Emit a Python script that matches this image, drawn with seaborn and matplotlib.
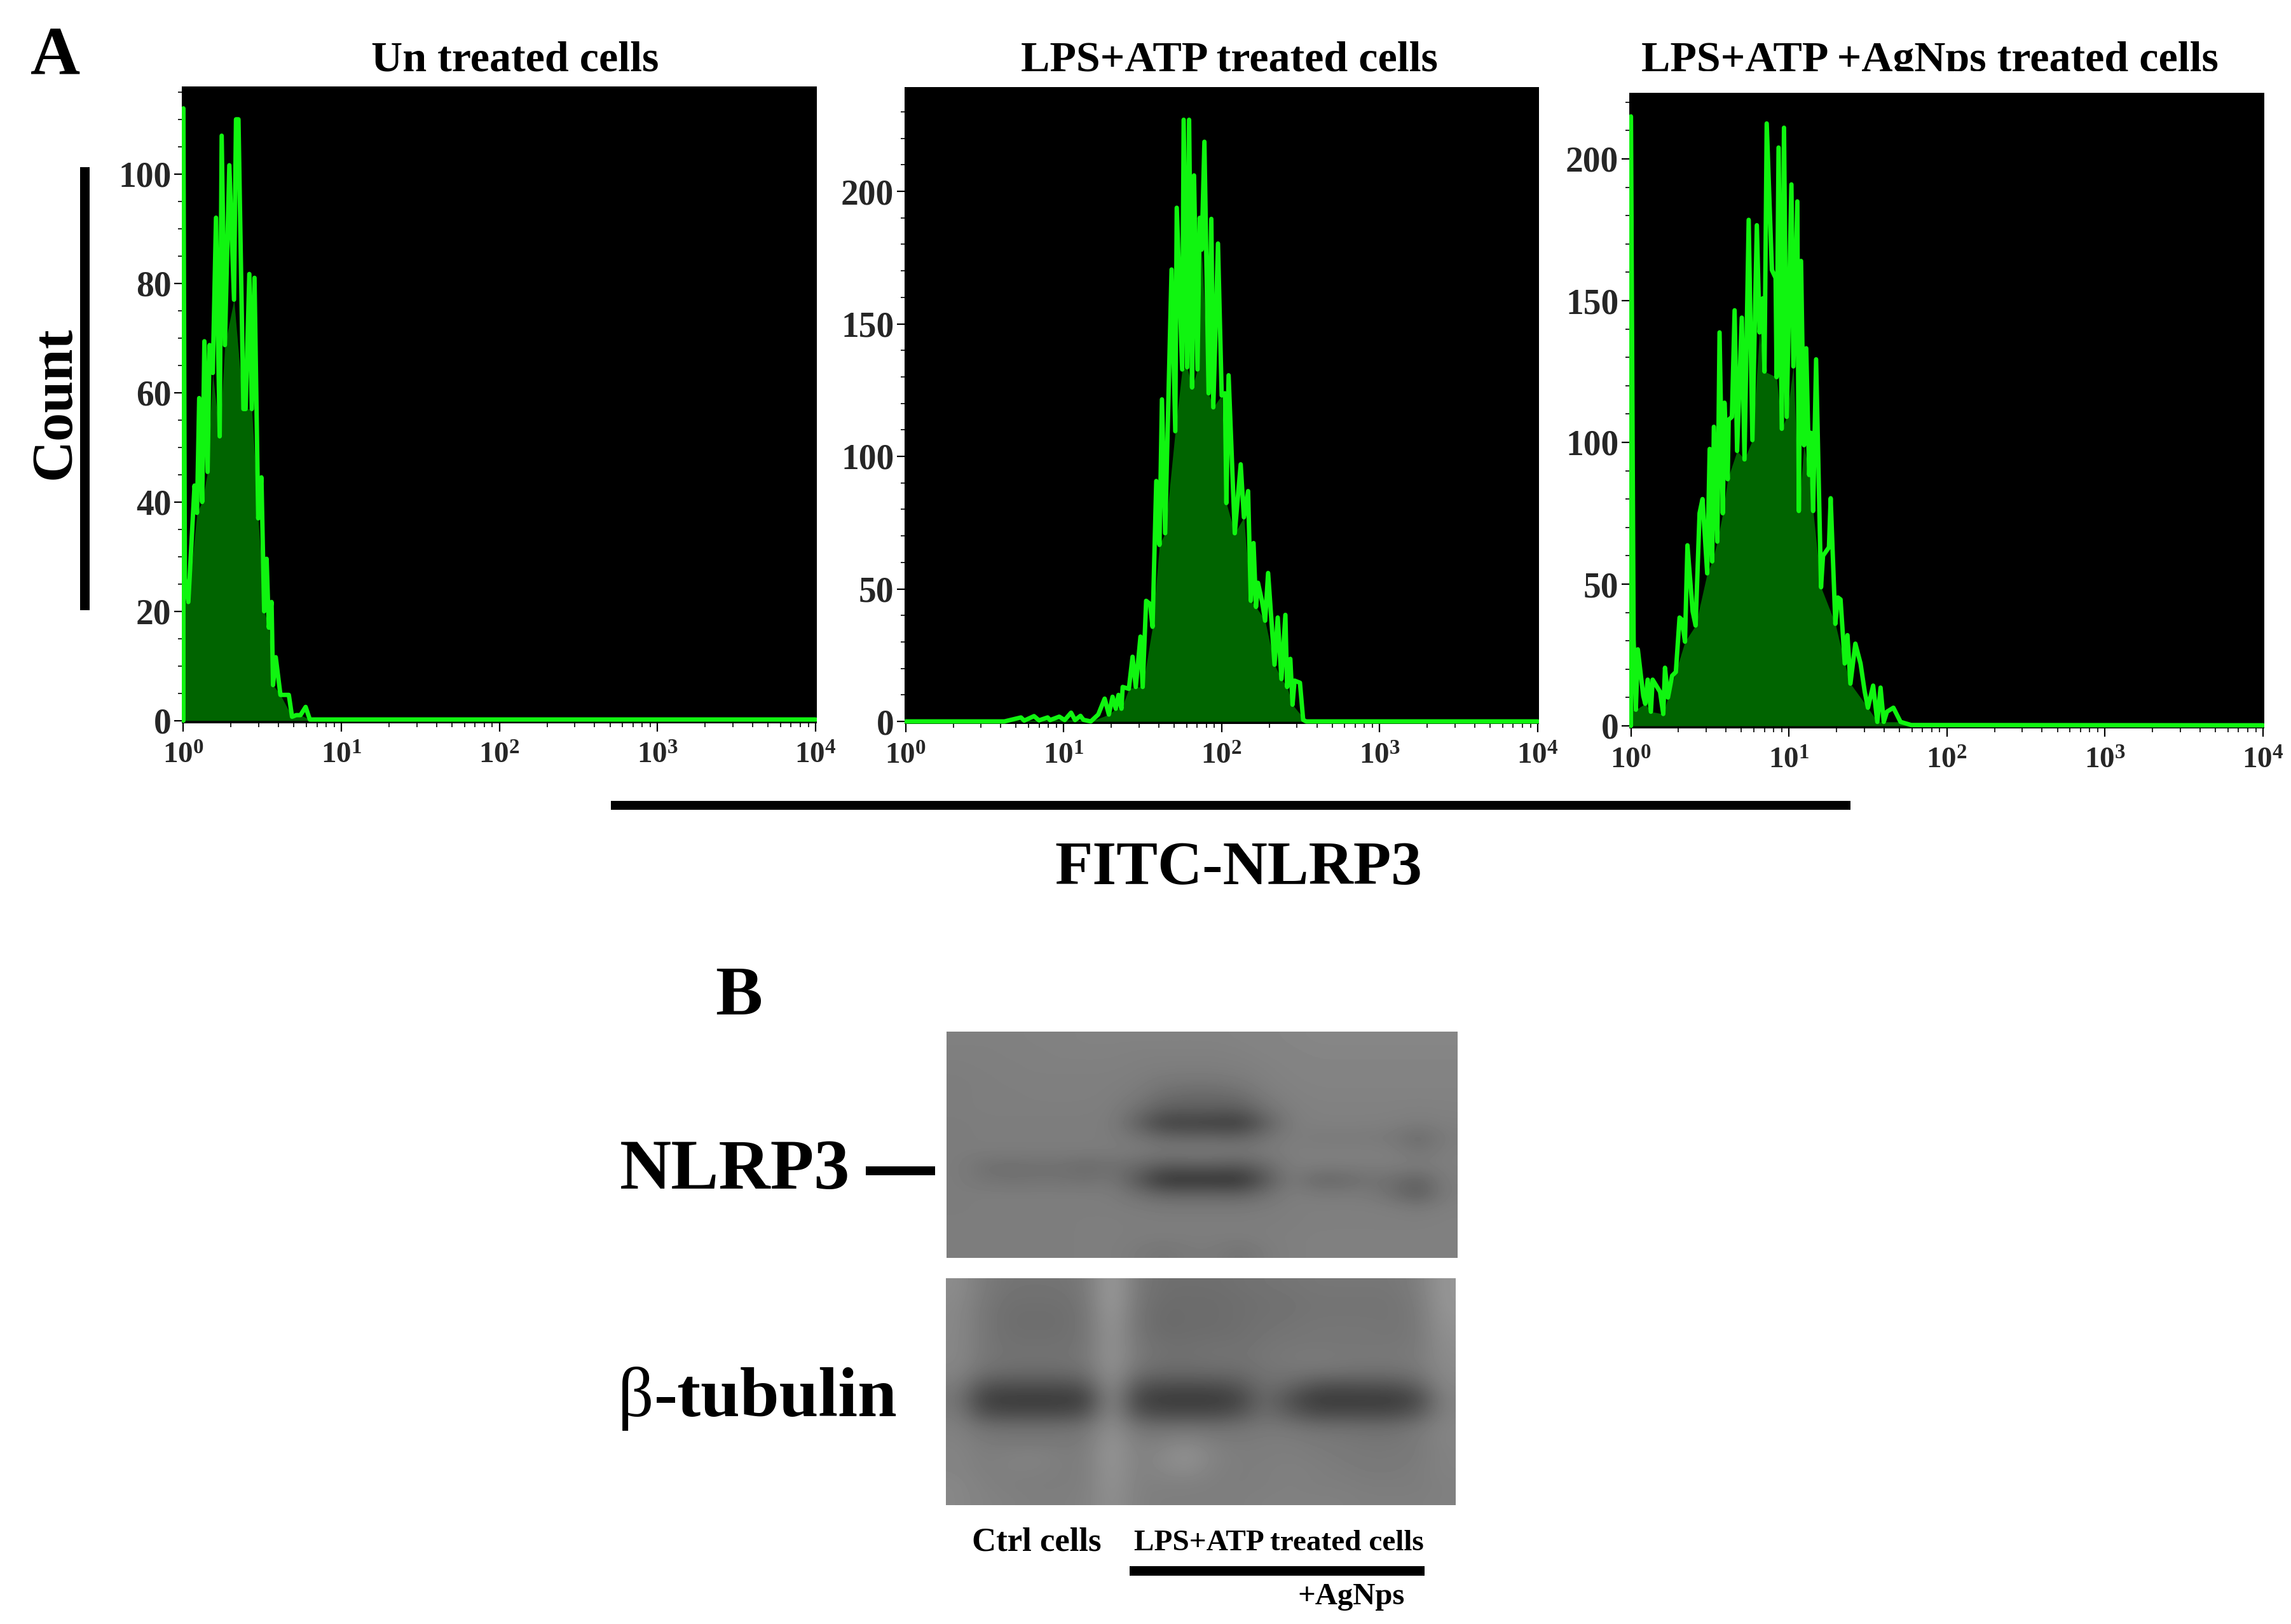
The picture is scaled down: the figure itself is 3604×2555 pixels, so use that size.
import numpy as np
import seaborn as sns
import matplotlib
matplotlib.use("Agg")
import matplotlib.pyplot as plt
from matplotlib.patches import Rectangle
from matplotlib.ticker import FixedLocator, MultipleLocator, NullFormatter, LogLocator

sns.set_style("white")
plt.rcParams['font.family'] = ['Liberation Serif', 'DejaVu Serif']
plt.rcParams['font.weight'] = 'bold'
plt.rcParams['mathtext.fontset'] = 'custom'
plt.rcParams['mathtext.rm'] = 'Liberation Serif:bold'
plt.rcParams['mathtext.bf'] = 'Liberation Serif:bold'
plt.rcParams['mathtext.default'] = 'bf'

W, H = 3605, 2555

# ---------- data (channel on 0-256 log scale, count) ----------
untreated_ch = [0, 0, 0.6, 2, 4.5, 5.5, 6.4, 7.6, 8.5, 9.8, 10.6, 11.9, 13.2, 14.7, 15.5, 16.8,
                18.6, 20.5, 21.3, 22.3, 24.3, 25.2, 26.7, 27.7, 28.8, 30.3, 31.6, 32.7, 33.7,
                34.6, 35.7, 36.3, 37.4, 39.3, 42.7, 44, 45.7, 47.4, 49.5, 51.2, 256]
untreated_ct = [0, 112, 26, 21.7, 43, 38, 59, 40, 69.4, 45.5, 68.7, 63.6, 92, 52, 107, 68.7,
                101.6, 77, 110, 110, 57, 57, 81.7, 57, 81, 37, 44.5, 20, 29.6,
                17, 21.7, 6.5, 11.6, 4.7, 4.7, 0.7, 1, 1, 2.5, 0.2, 0.2]

lps_ch = [0, 40, 46.7, 48, 52, 54, 57.5, 58.5, 62.2, 64.4, 67, 68.6, 70.8, 72, 75, 78, 80.6, 82.3,
          83.8, 85.1, 86.2, 87.4, 87.9, 90.4, 91.9, 93.2, 95.1, 96, 97.4, 99, 100, 101.5,
          102.8, 103.8, 105.1, 107.7, 109.2, 109.8, 112, 112.6, 114, 114.8, 116, 116.8, 118.2,
          119.1, 119.9, 121, 122.7, 123.8, 124.6, 126.5, 128, 129.3, 129.9, 130.8, 133.3,
          135.7, 137, 138.7, 139.8, 140.9, 141.9, 142.7, 144.3, 145.6, 146.8, 149.4, 150.7,
          152.2, 153.8, 154.5, 155.8, 156.7, 157.5, 159.7, 161, 162.2, 256]
lps_ct = [0, 0, 1.5, 0.3, 2, 0.4, 1.5, 0.5, 1.8, 0.5, 3.3, 0.5, 2.1, 0.6, 0, 2.6, 8.6, 2.6,
          9.3, 4.8, 10, 4.8, 13, 12.3, 24.4, 13, 32, 13, 45.5, 44.3, 35.7, 90.7,
          66.6, 121.5, 71, 170.5, 109.5, 193.8, 132.8, 227, 133.6, 227, 126, 206, 132.8,
          190, 178, 218.7, 123.8, 189.6, 118.5, 180.3, 123, 123.8, 82.4, 130.6, 71,
          97, 77, 86.9, 45.5, 67.3, 43.2, 52.3, 45.5, 38, 56, 21.4, 39.2,
          16, 40.2, 13, 23.6, 6.3, 15.4, 14.6, 0.6, 0, 0]

agnp_ch = [0, 0, 1.1, 2, 2.8, 5, 5.8, 6.8, 8.1, 8.8, 11.8, 13.1, 13.8, 15, 16.7, 18.2, 19.7, 20.6,
           21.9, 22.9, 25, 26.2, 27.8, 29, 30.9, 31.9, 32.9, 33.6, 35, 35.9, 37.2, 37.9, 39.2,
           39.6, 40.9, 42, 43, 44.9, 46, 47.7, 49.2, 51, 52.1, 53.3, 54.1, 55, 57.1, 58.6,
           59, 59.8, 61.1, 62, 63.1, 65, 65.8, 67.4, 68, 68.9, 70.1, 71, 72.2, 72.9, 73.8, 75,
           77, 77.8, 80.2, 80.9, 82.8, 83.8, 84.9, 86.6, 87.7, 88.9, 90.9, 93, 94.7, 96, 98.1,
           99.8, 101.1, 102.4, 103.7, 106.3, 109.2, 113.5, 256]
agnp_ct = [0, 215, 30.5, 5.7, 27, 10.6, 7.8, 16.3, 5, 16.3, 12, 4.2, 20.5, 10, 17.7, 19, 38.2, 37.5,
           29.7, 63.7, 40.4, 35.4, 75, 80, 53.8, 97.7, 58, 105.5, 65, 138.8, 75, 114, 87,
           108, 109, 146.6, 97, 144, 94, 178.5, 100.8, 176.6, 138.8, 150.8, 125, 212.5, 160.8, 158,
           123, 204, 104.8, 211, 109, 191, 126.8, 185, 75.8, 164, 99, 133.2, 88.5, 103.4, 75.8, 129.3,
           48.9, 60, 63, 80.3, 36, 45.3, 44.6, 22, 32, 14.9, 29, 22, 12, 6.4, 14.2,
           1.4, 13.5, 1.4, 5, 6.4, 1.4, 0.3, 0.2]

titles = ["Un treated cells", "LPS+ATP treated cells", "LPS+ATP +AgNps treated cells"]
x_tick_values = [1, 10, 100, 1000, 10000]
x_tick_labels = [r"$10^{0}$", r"$10^{1}$", r"$10^{2}$", r"$10^{3}$", r"$10^{4}$"]
y_ticks_major = [[0, 20, 40, 60, 80, 100], [0, 50, 100, 150, 200], [0, 50, 100, 150, 200]]
y_minor_steps = [5, 10, 10]

# grey levels of the two blots, read on a coarse grid
nlrp3_blot = [
 [128,128,128,129,129,130,130,130,130,130,130,131,132,133,134,134,134,134,134,134],
 [127,127,128,128,129,129,129,128,128,128,128,129,131,132,133,133,133,133,133,133],
 [126,127,127,128,128,128,128,127,126,126,126,127,129,131,132,132,132,132,132,132],
 [125,126,127,127,127,127,127,125,120,119,119,122,128,130,131,131,131,131,131,131],
 [125,126,126,127,127,127,126,122,110,106,106,110,124,129,130,130,130,130,130,130],
 [125,126,126,126,126,126,125,112,94,94,94,92,114,127,129,129,129,129,128,129],
 [124,125,125,125,125,125,124,98,64,64,62,58,96,125,128,128,128,127,124,127],
 [124,125,125,125,125,125,124,116,104,102,102,100,114,126,122,122,122,120,105,124],
 [124,124,124,124,124,124,124,123,120,122,122,120,123,126,127,127,127,126,116,126],
 [124,112,110,112,112,106,112,106,92,94,94,90,106,126,125,125,125,126,124,126],
 [124,116,114,115,115,112,118,88,50,50,50,48,88,124,102,104,114,110,96,125],
 [124,125,125,125,125,125,124,112,100,100,100,98,112,126,122,122,122,110,90,124],
 [124,125,125,125,125,125,125,124,122,122,122,122,124,126,127,127,127,126,122,127],
 [125,125,125,125,125,126,126,125,125,125,125,125,125,126,127,127,127,127,127,128],
 [125,125,125,125,125,126,126,125,125,125,125,125,126,127,128,128,128,128,128,128],
 [125,125,125,125,125,126,126,122,116,122,122,114,124,127,128,128,128,128,128,128],
]
tubulin_blot = [
 [140,122,115,115,115,120,158,120,110,110,110,112,115,116,118,118,118,118,125,150],
 [138,120,112,112,112,118,158,118,108,108,108,110,112,114,116,116,116,116,122,150],
 [136,118,110,110,110,116,155,116,106,108,108,110,112,114,116,116,116,116,120,148],
 [136,118,110,110,110,116,152,116,106,108,108,110,114,116,118,118,118,116,120,145],
 [135,118,112,112,112,116,150,118,110,110,112,112,116,118,118,118,118,118,120,142],
 [135,118,114,114,114,118,150,120,112,112,114,114,118,120,122,120,120,120,122,140],
 [132,112,108,108,108,112,148,112,106,106,108,108,116,118,118,116,114,114,118,138],
 [125,85,82,82,82,88,145,88,80,80,80,88,112,104,85,82,85,85,98,135],
 [118,62,58,58,58,62,142,68,58,58,58,66,108,80,58,58,58,58,70,130],
 [122,78,74,74,74,82,142,82,74,74,74,82,112,92,74,74,74,74,88,130],
 [128,112,112,112,112,115,145,115,112,115,112,115,120,118,112,112,110,110,118,132],
 [130,122,120,120,120,122,150,125,128,134,125,122,125,125,122,120,118,118,122,132],
 [132,125,128,130,125,125,152,128,136,146,130,125,125,126,124,122,120,120,122,130],
 [132,126,128,128,125,125,150,128,134,140,128,125,126,128,126,124,122,122,124,130],
 [135,128,126,125,125,126,148,128,128,128,126,125,126,128,126,126,124,124,124,128],
 [135,130,128,126,126,128,145,128,126,126,126,126,128,128,128,128,126,126,126,128],
]

# ---------- layout (pixels in the output image) ----------
fig = plt.figure(figsize=(W / 100, H / 100), dpi=100, facecolor="white")

def fx(x): return x / W
def fy(y): return 1 - y / H

def axes_px(l, t, r, b):
    return fig.add_axes([fx(l), fy(b), (r - l) / W, (b - t) / H])

def label(x, y, s, size, weight="bold", **kw):
    kw.setdefault("ha", "center")
    kw.setdefault("va", "baseline")
    return fig.text(fx(x), fy(y), s, fontsize=size, fontweight=weight, color="black", zorder=3, **kw)

def bar_px(l, t, r, b):
    fig.add_artist(Rectangle((fx(l), fy(b)), (r - l) / W, (b - t) / H, transform=fig.transFigure,
                             facecolor="black", edgecolor="none"))

panels = [
    dict(ch=untreated_ch, ct=untreated_ct, box=(286, 136, 1285, 1138), x0=288.5, x4=1283, y0=1133.7, sc=8.6),
    dict(ch=lps_ch, ct=lps_ct, box=(1423, 137, 2421, 1139), x0=1424.7, x4=2419, y0=1135, sc=4.17),
    dict(ch=agnp_ch, ct=agnp_ct, box=(2563, 146, 3562, 1146), x0=2565.6, x4=3560, y0=1142, sc=4.46),
]
title_pos = [(810, 112), (1934, 112), (3036, 112)]

for i, p in enumerate(panels):
    l, t, r, b = p["box"]
    ax = axes_px(l, t, r, b)
    ax.set_facecolor("black")
    ax.set_xscale("log")
    ch = np.array(p["ch"], float)
    ct = np.array(p["ct"], float)
    xs = 10 ** (ch / 64)

    # dark fill follows the valleys of the trace
    mids = [k for k in range(2, len(ct) - 1) if ct[k] <= ct[k - 1] and ct[k] <= ct[k + 1]]
    if i == 1:
        mids = [0] + [k for k in range(1, len(ct) - 1) if ct[k] <= ct[k - 1] and ct[k] <= ct[k + 1]]
    env = np.interp(ch, ch[mids], ct[mids])
    env = np.minimum(env, ct)
    ax.fill_between(xs, 0, env, color="#006400", lw=0, zorder=1)

    sns.lineplot(x=xs, y=ct, ax=ax, color="#10f510", linewidth=5.0, estimator=None, sort=False,
                 legend=False, zorder=2)

    dec = (p["x4"] - p["x0"]) / 4
    ax.set_xlim(10 ** ((l - p["x0"]) / dec), 10 ** ((r - p["x0"]) / dec))
    ax.set_ylim(-(b - p["y0"]) / p["sc"], (p["y0"] - t) / p["sc"])

    ax.set_xticks(x_tick_values)
    ax.set_xticklabels(x_tick_labels, fontsize=34)
    ax.xaxis.set_minor_locator(LogLocator(base=10, subs=range(2, 10), numticks=12))
    ax.xaxis.set_minor_formatter(NullFormatter())
    ax.yaxis.set_major_locator(FixedLocator(y_ticks_major[i]))
    ax.yaxis.set_minor_locator(MultipleLocator(y_minor_steps[i]))
    ax.set_yticklabels([str(v) for v in y_ticks_major[i]], fontsize=40, fontweight="bold")
    ax.tick_params(axis="both", which="major", direction="out", length=9, width=1.6, color="black",
                   left=True, bottom=True)
    ax.tick_params(axis="both", which="minor", direction="out", length=4, width=1.2, color="black",
                   left=True, bottom=True)
    ax.tick_params(axis="y", which="major", pad=3)
    ax.tick_params(axis="x", which="major", pad=13)
    for s in ax.spines.values():
        s.set_visible(False)
    ax.set_xlabel("")
    ax.set_ylabel("")
    label(title_pos[i][0], title_pos[i][1], titles[i], 49)

# the third title is cut at its baseline
fig.add_artist(Rectangle((fx(2500), fy(146)), 1000 / W, 34 / H, transform=fig.transFigure,
                         facecolor="white", edgecolor="none", zorder=4))

label(48, 116, "A", 78, ha="left")
label(110, 634, "Count", 65, rotation=90, rotation_mode="anchor")
bar_px(126, 263, 141, 960)
bar_px(961, 1260, 2911, 1274)
label(1948, 1391, "FITC-NLRP3", 70)

# ---------- panel B ----------
label(1125, 1596, "B", 80, ha="left")
ax_n = axes_px(1489, 1623, 2292, 1979)
ax_n.imshow(np.array(nlrp3_blot, float), cmap="gray", vmin=0, vmax=255, aspect="auto", interpolation="bicubic")
ax_n.axis("off")
ax_t = axes_px(1488, 2011, 2290, 2368)
ax_t.imshow(np.array(tubulin_blot, float), cmap="gray", vmin=0, vmax=255, aspect="auto", interpolation="bicubic")
ax_t.axis("off")

label(975, 1870, "NLRP3", 81, ha="left")
bar_px(1362, 1835, 1471, 1849)
label(972, 2228, "\u03b2", 80, weight="normal", ha="left")
label(1412, 2228, "-tubulin", 80, ha="right")
label(1631, 2440, "Ctrl cells", 38)
label(2012, 2439, "LPS+ATP treated cells", 34)
bar_px(1777, 2464, 2241, 2479)
label(2126, 2524, "+AgNps", 35)

fig.savefig("out.png", dpi=100, facecolor="white")
